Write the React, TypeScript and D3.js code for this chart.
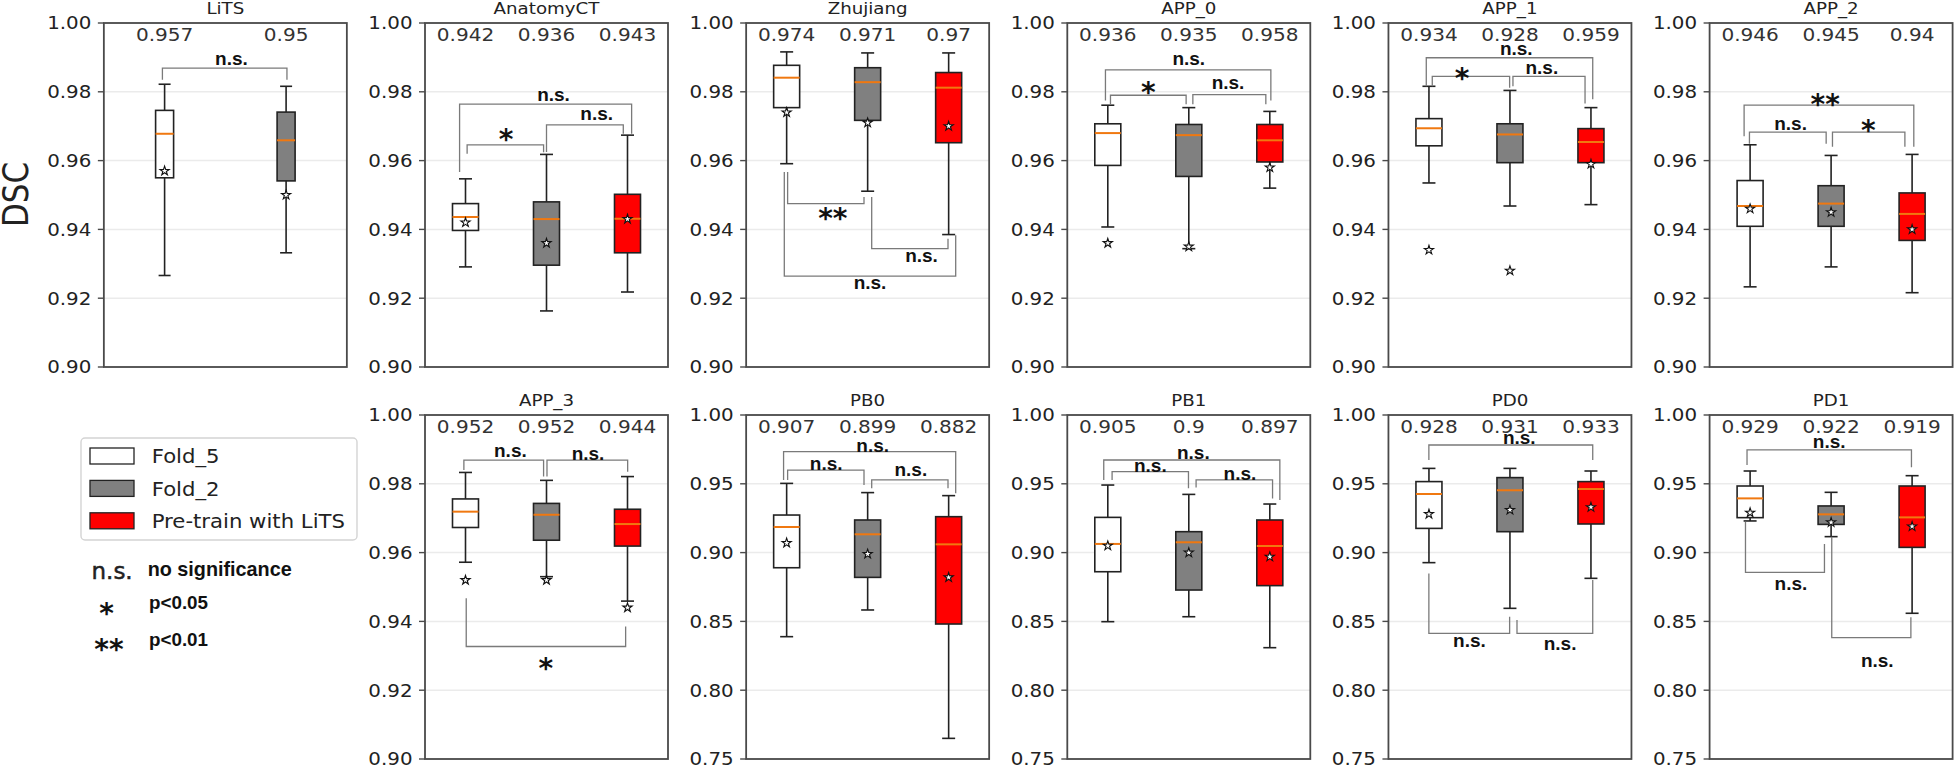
import React from "react";
import * as d3 from "d3";

// ---------------- data ----------------
const panelNames = ["LiTS", "AnatomyCT", "Zhujiang", "APP_0", "APP_1", "APP_2", "APP_3", "PB0", "PB1", "PD0", "PD1"];
const panelYMin = [0.9, 0.9, 0.9, 0.9, 0.9, 0.9, 0.9, 0.75, 0.75, 0.75, 0.75];
const seriesNames = ["Fold_5", "Fold_2", "Pre-train with LiTS"];
const seriesFill = ["#ffffff", "#808080", "#ff0000"];

// [lower whisker, Q1, median, Q3, upper whisker]
const fold5Stats = [
  [0.9266, 0.955, 0.9678, 0.9746, 0.9822],
  [0.9291, 0.9397, 0.9436, 0.9475, 0.9547],
  [0.9591, 0.9754, 0.9841, 0.9877, 0.9916],
  [0.9407, 0.9586, 0.968, 0.9707, 0.9761],
  [0.9535, 0.9643, 0.9694, 0.9722, 0.9816],
  [0.9233, 0.9409, 0.9468, 0.9542, 0.9646],
  [0.9572, 0.9673, 0.9719, 0.9756, 0.9833],
  [0.8389, 0.889, 0.9186, 0.9273, 0.9503],
  [0.8498, 0.8861, 0.9063, 0.9256, 0.9491],
  [0.8927, 0.9176, 0.9426, 0.9516, 0.9612],
  [0.923, 0.9254, 0.9394, 0.9484, 0.9593],
];
const fold2Stats = [
  [0.9332, 0.9541, 0.9659, 0.9741, 0.9816],
  [0.9163, 0.9296, 0.943, 0.948, 0.9618],
  [0.9511, 0.9717, 0.9828, 0.987, 0.9913],
  [0.9344, 0.9554, 0.9674, 0.9705, 0.9754],
  [0.9468, 0.9594, 0.9676, 0.9707, 0.9804],
  [0.9291, 0.9409, 0.9475, 0.9527, 0.9615],
  [0.953, 0.9636, 0.971, 0.9743, 0.981],
  [0.8583, 0.882, 0.9133, 0.9237, 0.9436],
  [0.8534, 0.8728, 0.9075, 0.9152, 0.9423],
  [0.8595, 0.9152, 0.9453, 0.9545, 0.9612],
  [0.9116, 0.9205, 0.9278, 0.9339, 0.9438],
];
const pretrainStats = [
  null,
  [0.9218, 0.9332, 0.9431, 0.9502, 0.9674],
  [0.9385, 0.9652, 0.9812, 0.9856, 0.9913],
  [0.952, 0.9596, 0.9659, 0.9705, 0.9743],
  [0.9472, 0.9594, 0.9654, 0.9693, 0.9754],
  [0.9216, 0.9368, 0.9445, 0.9506, 0.9618],
  [0.9459, 0.9619, 0.9683, 0.9726, 0.9821],
  [0.765, 0.8481, 0.906, 0.9261, 0.9414],
  [0.8309, 0.876, 0.9048, 0.9237, 0.9353],
  [0.8813, 0.9208, 0.9462, 0.9516, 0.9593],
  [0.8559, 0.9038, 0.9256, 0.9484, 0.9559],
];
const fold5Mean = [0.957, 0.942, 0.974, 0.936, 0.934, 0.946, 0.952, 0.907, 0.905, 0.928, 0.929];
const fold2Mean = [0.95, 0.936, 0.971, 0.935, 0.928, 0.945, 0.952, 0.899, 0.9, 0.931, 0.922];
const pretrainMean = [null, 0.943, 0.97, 0.958, 0.959, 0.94, 0.944, 0.882, 0.897, 0.933, 0.919];

// significance brackets: panel, x1, x2 (box positions), bar level, leg ends, label, label level, label x
const brackets = [
  { p: 0, x1: 0.982, x2: 2.007, y: 0.9869, e1: 0.9835, e2: 0.9835, t: "n.s.", ly: 0.9891, lx: 1.55 },
  { p: 1, x1: 1.02, x2: 1.964, y: 0.9646, e1: 0.962, e2: 0.9624, t: "*", ly: 0.9683, lx: 1.5 },
  { p: 1, x1: 2.0, x2: 2.948, y: 0.9704, e1: 0.9625, e2: 0.9678, t: "n.s.", ly: 0.9732, lx: 2.62 },
  { p: 1, x1: 0.927, x2: 3.051, y: 0.9764, e1: 0.9567, e2: 0.9678, t: "n.s.", ly: 0.9788, lx: 2.087 },
  { p: 2, x1: 1.012, x2: 1.955, y: 0.9475, e1: 0.9567, e2: 0.9494, t: "**", ly: 0.9451, lx: 1.57 },
  { p: 2, x1: 2.05, x2: 2.992, y: 0.9344, e1: 0.9494, e2: 0.9373, t: "n.s.", ly: 0.932, lx: 2.665 },
  { p: 2, x1: 0.971, x2: 3.087, y: 0.9264, e1: 0.9567, e2: 0.9383, t: "n.s.", ly: 0.9242, lx: 2.029 },
  { p: 3, x1: 1.033, x2: 1.967, y: 0.979, e1: 0.9764, e2: 0.9764, t: "*", ly: 0.9819, lx: 1.5 },
  { p: 3, x1: 2.05, x2: 2.951, y: 0.9792, e1: 0.9764, e2: 0.9764, t: "n.s.", ly: 0.9824, lx: 2.484 },
  { p: 3, x1: 0.971, x2: 3.013, y: 0.9864, e1: 0.9775, e2: 0.9775, t: "n.s.", ly: 0.9891, lx: 2.0 },
  { p: 4, x1: 1.041, x2: 1.996, y: 0.9845, e1: 0.9816, e2: 0.9812, t: "*", ly: 0.9858, lx: 1.41 },
  { p: 4, x1: 2.037, x2: 2.927, y: 0.9845, e1: 0.9816, e2: 0.9766, t: "n.s.", ly: 0.9867, lx: 2.394 },
  { p: 4, x1: 0.967, x2: 3.022, y: 0.9899, e1: 0.9816, e2: 0.9778, t: "n.s.", ly: 0.9922, lx: 2.078 },
  { p: 5, x1: 0.992, x2: 1.939, y: 0.9683, e1: 0.9649, e2: 0.9649, t: "n.s.", ly: 0.9703, lx: 1.5 },
  { p: 5, x1: 2.017, x2: 2.911, y: 0.9683, e1: 0.964, e2: 0.964, t: "*", ly: 0.9709, lx: 2.46 },
  { p: 5, x1: 0.926, x2: 3.021, y: 0.9761, e1: 0.9671, e2: 0.964, t: "**", ly: 0.9782, lx: 1.927 },
  { p: 6, x1: 0.98, x2: 1.964, y: 0.9869, e1: 0.984, e2: 0.9821, t: "n.s.", ly: 0.9893, lx: 1.554 },
  { p: 6, x1: 2.006, x2: 3.002, y: 0.9869, e1: 0.9821, e2: 0.9835, t: "n.s.", ly: 0.9884, lx: 2.513 },
  { p: 6, x1: 1.009, x2: 2.977, y: 0.9327, e1: 0.9467, e2: 0.9385, t: "*", ly: 0.9283, lx: 1.993 },
  { p: 7, x1: 1.012, x2: 1.955, y: 0.96, e1: 0.9528, e2: 0.9491, t: "n.s.", ly: 0.9637, lx: 1.488 },
  { p: 7, x1: 2.05, x2: 2.992, y: 0.9528, e1: 0.9467, e2: 0.9467, t: "n.s.", ly: 0.9593, lx: 2.533 },
  { p: 7, x1: 0.962, x2: 3.087, y: 0.9734, e1: 0.9528, e2: 0.9431, t: "n.s.", ly: 0.977, lx: 2.062 },
  { p: 8, x1: 1.053, x2: 1.996, y: 0.9588, e1: 0.9528, e2: 0.9467, t: "n.s.", ly: 0.962, lx: 1.525 },
  { p: 8, x1: 2.09, x2: 3.034, y: 0.9528, e1: 0.9474, e2: 0.9394, t: "n.s.", ly: 0.9564, lx: 2.632 },
  { p: 8, x1: 0.95, x2: 3.124, y: 0.9673, e1: 0.9528, e2: 0.9382, t: "n.s.", ly: 0.9717, lx: 2.056 },
  { p: 9, x1: 0.999, x2: 3.022, y: 0.9782, e1: 0.9673, e2: 0.9673, t: "n.s.", ly: 0.9823, lx: 2.115 },
  { p: 9, x1: 0.999, x2: 1.996, y: 0.8413, e1: 0.8849, e2: 0.8534, t: "n.s.", ly: 0.8353, lx: 1.5 },
  { p: 9, x1: 2.087, x2: 3.022, y: 0.8413, e1: 0.851, e2: 0.8801, t: "n.s.", ly: 0.8329, lx: 2.619 },
  { p: 10, x1: 0.962, x2: 2.992, y: 0.9746, e1: 0.9637, e2: 0.962, t: "n.s.", ly: 0.9799, lx: 1.976 },
  { p: 10, x1: 0.943, x2: 1.918, y: 0.8857, e1: 0.9225, e2: 0.9062, t: "n.s.", ly: 0.8765, lx: 1.504 },
  { p: 10, x1: 2.008, x2: 2.985, y: 0.8382, e1: 0.9116, e2: 0.853, t: "n.s.", ly: 0.8207, lx: 2.57 },
];

const sigKeys = ["n.s.", "*", "**"];
const sigMeanings = ["no significance", "p<0.05", "p<0.01"];

// ---------------- layout ----------------
const W = 1955;
const H = 768;
const PW = 243;
const PH = 344;
const colLeft = d3.scaleLinear().domain([0, 5]).range([103.85, 1709.6]);
const rowTop = [23, 415];
const SX = 1.14;
const DEJAVU = "'DejaVu Sans', sans-serif";
const ARIAL = "'Liberation Sans', Arial, sans-serif";

const statsBySeries = [fold5Stats, fold2Stats, pretrainStats];
const meansBySeries = [fold5Mean, fold2Mean, pretrainMean];
const starPath = d3.symbol(d3.symbolStar, 26)() as string;

function T(props: any) {
  const { x, y, size, anchor = "start", family = DEJAVU, weight = "normal", fill = "#222", sx = SX, children } = props;
  return (
    <text
      transform={`translate(${x},${y}) scale(${sx},1)`}
      fontSize={size}
      textAnchor={anchor}
      fontFamily={family}
      fontWeight={weight}
      fill={fill}
    >
      {children}
    </text>
  );
}

function Panel({ i }: { i: number }) {
  const row = i < 6 ? 0 : 1;
  const col = i < 6 ? i : i - 5;
  const left = colLeft(col);
  const top = rowTop[row];
  const series = [0, 1, 2].filter((s) => statsBySeries[s][i]);
  const n = series.length;
  const x = d3.scaleLinear().domain([0.5, n + 0.5]).range([left, left + PW]);
  const y = d3.scaleLinear().domain([panelYMin[i], 1.0]).range([top + PH, top]);
  const ticks = y.ticks(5);
  const fmt = d3.format(".2f");
  const bw = n === 2 ? 18 : 26;
  const cw = n === 2 ? 12 : 13;
  const myBrackets = brackets.filter((b) => b.p === i);

  return (
    <g>
      {ticks.map((t) => (
        <line key={"g" + t} x1={left} x2={left + PW} y1={y(t)} y2={y(t)} stroke="#ebebeb" strokeWidth={1.5} />
      ))}
      {series.map((s, k) => {
        const st = statsBySeries[s][i] as number[];
        const cx = x(k + 1);
        const m = meansBySeries[s][i] as number;
        return (
          <g key={"b" + s}>
            <line x1={cx} x2={cx} y1={y(st[0])} y2={y(st[1])} stroke="#222" strokeWidth={1.6} />
            <line x1={cx} x2={cx} y1={y(st[3])} y2={y(st[4])} stroke="#222" strokeWidth={1.6} />
            <line x1={cx - cw / 2} x2={cx + cw / 2} y1={y(st[0])} y2={y(st[0])} stroke="#222" strokeWidth={1.6} />
            <line x1={cx - cw / 2} x2={cx + cw / 2} y1={y(st[4])} y2={y(st[4])} stroke="#222" strokeWidth={1.6} />
            <rect
              x={cx - bw / 2}
              y={y(st[3])}
              width={bw}
              height={y(st[1]) - y(st[3])}
              fill={seriesFill[s]}
              stroke="#222"
              strokeWidth={1.6}
            />
            <line x1={cx - bw / 2} x2={cx + bw / 2} y1={y(st[2])} y2={y(st[2])} stroke="#f07810" strokeWidth={2} />
            <path d={starPath} transform={`translate(${cx},${y(m)})`} fill="#fff" stroke="#111" strokeWidth={1.1} />
            <T x={cx} y={top + 17.5} size={17.6} anchor="middle" fill="#333">
              {String(m)}
            </T>
          </g>
        );
      })}
      {myBrackets.map((b, k) => {
        const X1 = x(b.x1);
        const X2 = x(b.x2);
        const Y = y(b.y);
        const isStar = b.t.startsWith("*");
        const ly = y(b.ly);
        return (
          <g key={"s" + k}>
            <path
              d={`M${X1},${y(b.e1)}L${X1},${Y}L${X2},${Y}L${X2},${y(b.e2)}`}
              fill="none"
              stroke="#7a7a7a"
              strokeWidth={1.3}
            />
            {isStar ? (
              <text x={x(b.lx)} y={ly + 16.5} fontSize={28} fontWeight="bold" fontFamily={DEJAVU} textAnchor="middle" fill="#111">
                {b.t}
              </text>
            ) : (
              <text x={x(b.lx)} y={ly + 5} fontSize={19} fontWeight="bold" fontFamily={ARIAL} textAnchor="middle" fill="#111">
                {b.t}
              </text>
            )}
          </g>
        );
      })}
      <rect x={left} y={top} width={PW} height={PH} fill="none" stroke="#4a4a4a" strokeWidth={1.8} />
      {ticks.map((t) => (
        <g key={"t" + t}>
          <line x1={left - 6} x2={left} y1={y(t)} y2={y(t)} stroke="#4a4a4a" strokeWidth={1.4} />
          <T x={left - 12.5} y={y(t) + 6.3} size={17.4} anchor="end" fill="#222">
            {fmt(t)}
          </T>
        </g>
      ))}
      <T x={left + PW / 2} y={top - 8.7} size={16} anchor="middle" fill="#222">
        {panelNames[i]}
      </T>
    </g>
  );
}

function Legend() {
  const lx = 81;
  const ly = 438;
  return (
    <g>
      <rect x={lx} y={ly} width={276} height={102} rx={4} fill="#fff" stroke="#d4d4d4" strokeWidth={1.4} />
      {seriesNames.map((name, k) => (
        <g key={name}>
          <rect x={90} y={448 + k * 32.4} width={44} height={16} fill={seriesFill[k]} stroke="#222" strokeWidth={1.3} />
          <T x={151.7} y={463.3 + k * 32.2} size={18.6} fill="#222">
            {name}
          </T>
        </g>
      ))}
      {sigKeys.map((key, k) => {
        const cy = [570, 606, 642][k];
        if (key === "n.s.") {
          return (
            <text key={key} x={91.5} y={579} fontSize={23} fontFamily={DEJAVU} fill="#222" stroke="#222" strokeWidth={0.5}>
              {key}
            </text>
          );
        }
        return (
          <text key={key} x={key === "*" ? 106.5 : 109} y={cy + 16.5} fontSize={28} fontWeight="bold" fontFamily={DEJAVU} textAnchor="middle" fill="#111">
            {key}
          </text>
        );
      })}
      {sigMeanings.map((txt, k) => {
        const first = k === 0;
        return (
          <text
            key={txt}
            x={first ? 147.7 : 149}
            y={first ? 576 : [0, 609.3, 645.7][k]}
            fontSize={first ? 21 : 17.5}
            fontWeight="bold"
            fontFamily={ARIAL}
            fill="#111"
            textLength={first ? 144 : 59}
            lengthAdjust="spacingAndGlyphs"
          >
            {txt}
          </text>
        );
      })}
    </g>
  );
}

export default function App() {
  return (
    <svg
      width={W}
      height={H}
      viewBox={`0 0 ${W} ${H}`}
      style={{ position: "absolute", left: 0, top: 0, background: "#fff" }}
    >
      <rect x={0} y={0} width={W} height={H} fill="#fff" />
      <text
        transform={`translate(28,194.5) rotate(-90) scale(0.87,1)`}
        fontSize={35.6}
        fontFamily={DEJAVU}
        textAnchor="middle"
        fill="#222"
      >
        DSC
      </text>
      {panelNames.map((_, i) => (
        <Panel key={i} i={i} />
      ))}
      <Legend />
    </svg>
  );
}
